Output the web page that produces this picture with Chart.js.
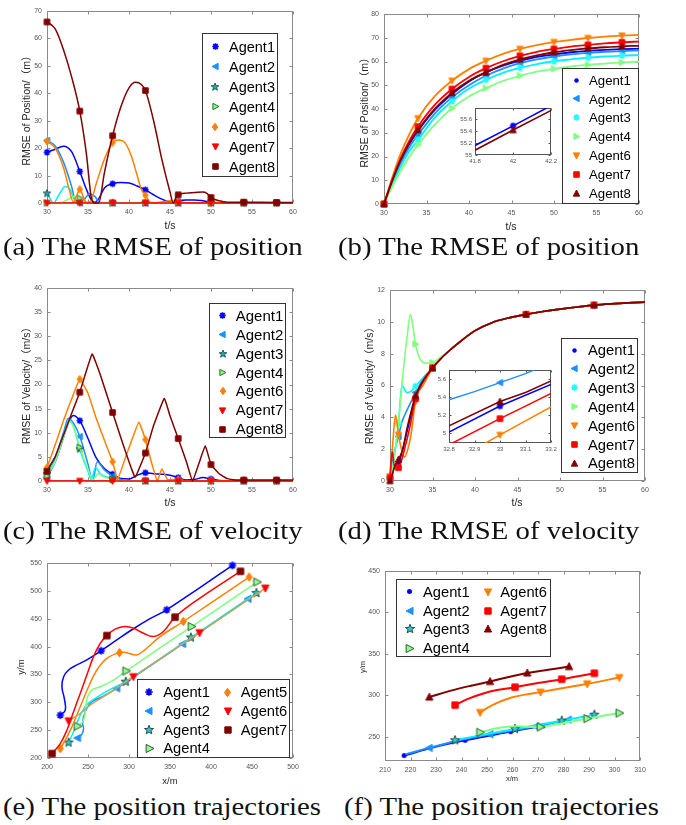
<!DOCTYPE html>
<html>
<head>
<meta charset="utf-8">
<title>RMSE and trajectories</title>
<script src="https://cdn.jsdelivr.net/npm/chart.js@4.4.1/dist/chart.umd.min.js"></script>
<style>
  body { margin: 0; background: #fff; }
  #page { position: relative; width: 686px; height: 825px; overflow: hidden; background: #fff; }
  #page canvas { position: absolute; }
  .cap { position: absolute; font-family: 'Liberation Serif', 'DejaVu Serif', serif; font-size: 25px; line-height: 25px; color: #111; white-space: nowrap; transform: scaleX(1.15); transform-origin: 0 0; }
</style>
</head>
<body>
<div id="page">
  <canvas id="ca" width="343" height="240" style="left:0;top:0"></canvas>
  <canvas id="cb" width="343" height="240" style="left:343px;top:0"></canvas>
  <canvas id="cc" width="343" height="245" style="left:0;top:270px"></canvas>
  <canvas id="cd" width="343" height="245" style="left:343px;top:270px"></canvas>
  <canvas id="ce" width="343" height="260" style="left:0;top:530px"></canvas>
  <canvas id="cf" width="343" height="260" style="left:343px;top:530px"></canvas>
  <canvas id="ib" width="115" height="70" style="left:445px;top:100px"></canvas>
  <canvas id="id" width="140" height="95" style="left:420px;top:362px"></canvas>
  <div class="cap" style="left:3px;top:234px">(a) The RMSE of position</div>
  <div class="cap" style="left:338px;top:234px">(b) The RMSE of position</div>
  <div class="cap" style="left:3px;top:518px">(c) The RMSE of velocity</div>
  <div class="cap" style="left:338px;top:518px">(d) The RMSE of velocity</div>
  <div class="cap" style="left:3px;top:794px">(e) The position trajectories</div>
  <div class="cap" style="left:344px;top:794px">(f) The position trajectories</div>
</div>
<script>
const FONT = "'Liberation Sans', Arial, 'Noto Sans CJK SC', sans-serif";
Chart.defaults.font.family = FONT;

//========== data ==========//

// (a) RMSE of position
const aXTicks = [30, 35, 40, 45, 50, 55, 60];
const aYTicks = [0, 10, 20, 30, 40, 50, 60, 70];
const aMarkT = [30, 34, 38, 42, 46, 50, 54, 58];
const aT1 = [30, 31, 32, 33, 34, 34.8, 35.4, 35.8, 36.3, 37, 38, 39, 40, 41, 42, 43, 44, 45, 45.6, 46, 47, 48, 49, 50, 51, 54, 58, 60];
const aV1 = [18.5, 19.6, 20.7, 18.7, 11.5, 5, 1.2, 0.3, 1.5, 5.5, 7, 7.5, 7.3, 6.2, 4.8, 3, 1.4, 0.3, 0.1, 0.6, 1.1, 1.1, 0.8, 0.3, 0.1, 0, 0, 0];
const aT2 = [30, 31, 32, 33, 33.5, 34, 34.6, 35.2, 35.8, 36.4, 37, 38, 42, 46, 50, 54, 58, 60];
const aV2 = [22.8, 20.8, 15, 6, 0.4, 0, 1.5, 3.4, 2.5, 0.3, 0, 0, 0, 0, 0, 0, 0, 0];
const aT3 = [30, 30.4, 30.8, 31.5, 32.2, 32.8, 33.3, 33.6, 34, 38, 42, 46, 50, 54, 58, 60];
const aV3 = [3.5, 1.5, 0, 3.2, 6, 5, 1.5, 0, 0.3, 0.1, 0, 0, 0, 0, 0, 0];
const aT4 = [30, 31.5, 32.5, 33.3, 34, 34.6, 35, 38, 42, 46, 50, 54, 58, 60];
const aV4 = [0, 0, 1.2, 2.4, 1.8, 0.3, 0, 0, 0, 0, 0, 0, 0, 0];
const aT6 = [30, 31, 32, 32.7, 33.2, 33.6, 34, 34.4, 34.8, 35.3, 36, 37, 38, 38.7, 39.5, 40.3, 41, 41.5, 42, 42.5, 43, 44, 45, 46, 47, 50, 54, 58, 60];
const aV6 = [22.5, 20, 13, 5, 0.4, 2.5, 5, 2.5, 0.2, 0.5, 7, 16, 22, 23, 22, 17, 10, 5, 2.8, 0.5, 0, 0.4, 0.8, 0.5, 0.1, 0, 0, 0, 0];
const aT7 = [30, 34, 38, 42, 46, 50, 54, 58, 60];
const aV7 = [0, 0, 0, 0, 0, 0, 0, 0, 0];
const aT8 = [30, 31, 32, 33, 34, 34.8, 35.4, 35.8, 36.3, 37, 38, 39, 40, 40.8, 41.5, 42, 43, 44, 45, 45.4, 45.8, 46, 47, 48, 49, 49.5, 50, 51, 52, 54, 58, 60];
const aV8 = [66, 63.5, 56, 46, 33.5, 18, 2, 0, 0, 11, 24.5, 35, 42, 44, 43.2, 41, 30, 16, 4, 0, 2.5, 3, 3.6, 3.8, 4, 3.5, 2, 0.8, 0.3, 0.3, 0.2, 0.2];

// (b) RMSE of position
const bYTicks = [0, 10, 20, 30, 40, 50, 60, 70, 80];
const bT = [30, 31, 32, 33, 34, 36, 38, 40, 42, 44, 46, 48, 50, 52, 54, 56, 58, 60];
const bV1 = [0, 9.8, 18.5, 25.4, 30.8, 39.7, 46.3, 51.6, 55.5, 58.3, 60.3, 61.9, 63.0, 63.9, 64.5, 64.9, 65.2, 65.4];
const bV2 = [0, 9.3, 17.5, 24, 29.1, 38.2, 44.9, 50, 54, 57, 59.3, 60.9, 62.1, 63, 63.6, 64.1, 64.4, 64.6];
const bV3 = [0, 8.5, 16, 22.3, 27, 36.5, 43.2, 48.6, 52.3, 55.2, 57.3, 58.9, 60.1, 60.9, 61.6, 62.1, 62.5, 62.7];
const bV4 = [0, 7.5, 14.2, 20, 24.9, 33.5, 40.3, 45.3, 48.8, 51.8, 54, 55.7, 56.9, 57.9, 58.6, 59.1, 59.6, 59.9];
const bV6 = [0, 11.5, 21.5, 29.5, 36.1, 45.5, 51.9, 56.8, 60.3, 63.2, 65.3, 66.9, 68.2, 69.1, 69.9, 70.5, 70.9, 71.2];
const bV7 = [0, 10.5, 19.5, 26.8, 32.6, 41.8, 48.4, 53.5, 57.2, 60.1, 62.4, 64.1, 65.3, 66.3, 67.0, 67.6, 68.1, 68.4];
const bV8 = [0, 10, 18.8, 25.8, 31.2, 40.2, 46.8, 51.9, 55.4, 58.6, 60.9, 62.6, 63.9, 64.8, 65.5, 66, 66.4, 66.6];
// (b) zoomed inset
const bInXTicks = [41.8, 42, 42.2];
const bInYTicks = [55, 55.2, 55.4, 55.6];
const bInT = [41.8, 42, 42.2];
const bInV1 = [55.16, 55.49, 55.83];
const bInV8 = [55.08, 55.42, 55.75];

// (c) RMSE of velocity
const cYTicks = [0, 5, 10, 15, 20, 25, 30, 35, 40];
const cT1 = [30, 31, 32, 32.6, 33.2, 34, 35, 36, 37, 38, 39, 40, 41, 42, 43, 44, 45, 46, 47, 48, 49, 50, 51, 52, 54, 58, 60];
const cV1 = [0.8, 4, 9, 12, 13.6, 12.5, 8.8, 4.8, 2.6, 1.4, 0.5, 0.4, 1.2, 1.7, 1.5, 1.4, 1.2, 0.7, 0.2, 0.3, 0.7, 0.4, 0.1, 0, 0, 0, 0];
const cT2 = [30, 31, 32, 32.6, 33.3, 34, 35, 35.6, 36.1, 37, 38, 39, 40, 42, 46, 50, 54, 58, 60];
const cV2 = [2.5, 5, 10, 13, 11.8, 9.2, 3.5, 0, 4, 2.3, 1, 0.3, 0, 0, 0, 0, 0, 0, 0];
const cT3 = [30, 31, 32, 32.7, 33.3, 34, 35, 35.4, 35.9, 36.5, 37, 38, 39, 42, 46, 50, 54, 58, 60];
const cV3 = [1.4, 4.5, 9.5, 12.6, 11, 6.6, 2, 0.2, 2.8, 1.5, 1, 0.5, 0, 0, 0, 0, 0, 0, 0];
const cT4 = [30, 31, 32, 32.8, 33.4, 34, 35, 35.6, 36.2, 37, 38, 39, 42, 46, 50, 54, 58, 60];
const cV4 = [1, 4, 9, 12.3, 10.5, 7, 2.5, 0.2, 1.5, 0.8, 0.3, 0, 0, 0, 0, 0, 0, 0];
const cT6 = [30, 31, 32, 33, 34, 35, 36, 37.3, 38, 38.6, 39.5, 40.3, 41.2, 42, 42.8, 43.45, 44, 44.7, 46, 47, 50, 54, 58, 60];
const cV6 = [2.8, 7.5, 12.5, 17, 21.1, 18.2, 13, 7.1, 4, 0.3, 4.5, 8.3, 12.2, 8.6, 3.5, 0, 2.5, 0.3, 0.3, 0, 0, 0.1, 0.1, 0];
const cT7 = [30, 34, 38, 42, 46, 50, 54, 58, 60];
const cV7 = [0, 0, 0, 0, 0, 0, 0, 0, 0];
const cT8 = [30, 31, 32, 33, 34, 35.5, 36.5, 38, 39, 40, 40.75, 42, 43, 44.3, 45, 46, 47, 47.75, 48.5, 49.3, 50, 51, 52, 53, 54, 58, 60];
const cV8 = [2, 5, 9.5, 14, 18.4, 26.3, 22, 14.2, 9, 4, 0.8, 5.8, 11.5, 17.1, 13.5, 8.8, 4, 0, 3.5, 7.3, 3.4, 1.5, 0.5, 0.2, 0.2, 0.2, 0.2];

// (d) RMSE of velocity: individual start, shared tail
const dYTicks = [0, 2, 4, 6, 8, 10, 12];
const dMarkT = [30, 31, 33, 35, 46, 54];
const dT1 = [30, 30.3, 30.6, 31, 31.5, 32, 32.5, 33, 34];
const dV1 = [0.1, 0.5, 1.0, 1.15, 2.0, 3.1, 4.2, 5.3, 6.4];
const dT2 = [30, 30.5, 31, 31.4, 32, 32.5, 33, 34];
const dV2 = [0.2, 1.8, 2.8, 3.7, 4.45, 5.0, 5.56, 6.5];
const dT3 = [30, 30.5, 31, 31.4, 32, 32.5, 33, 34];
const dV3 = [0.2, 1.5, 3.6, 6.0, 5.55, 5.65, 5.95, 6.55];
const dT4 = [30, 30.3, 31, 31.5, 32, 32.4, 32.7, 33, 33.5, 34.2, 35, 35.5, 36, 36.5];
const dV4 = [0.1, 0.8, 3.7, 6.6, 9.0, 10.45, 9.7, 8.6, 7.7, 7.4, 7.43, 7.6, 7.8, 8.0];
const dT6 = [30, 30.3, 30.65, 31, 31.3, 31.7, 32.1, 32.5, 33, 34];
const dV6 = [0.3, 2.2, 4.15, 2.9, 2.1, 1.5, 2.0, 3.0, 5.0, 6.1];
const dT7 = [30, 30.1, 30.25, 30.5, 31, 31.3, 31.8, 32.3, 33, 34];
const dV7 = [0.2, 1.0, 1.83, 1.0, 0.84, 1.2, 2.2, 3.3, 5.17, 6.3];
const dT8 = [30, 30.2, 30.6, 31, 31.5, 32, 32.5, 33, 34];
const dV8 = [0.0, 0.3, 1.0, 1.35, 2.0, 3.3, 4.4, 5.35, 6.4];
const dTailT = [35, 36, 37, 38, 40, 42, 44, 46, 48, 50, 52, 54, 56, 58, 60];
const dTailV = [7.1, 7.7, 8.2, 8.65, 9.45, 9.95, 10.25, 10.47, 10.65, 10.8, 10.93, 11.05, 11.13, 11.19, 11.24];
// (d) zoomed inset
const dInXTicks = [32.8, 32.9, 33, 33.1, 33.2];
const dInYTicks = [5, 5.2, 5.4, 5.6];
const dInT1 = [32.8, 33, 33.2];
const dInV1 = [5.01, 5.3, 5.54];
const dInT2 = [32.8, 32.9, 33, 33.1, 33.15];
const dInV2 = [5.37, 5.46, 5.56, 5.66, 5.72];
const dInT6 = [32.9, 33, 33.2];
const dInV6 = [4.82, 4.98, 5.29];
const dInT7 = [32.8, 33, 33.1, 33.2];
const dInV7 = [4.87, 5.16, 5.3, 5.44];
const dInT8 = [32.8, 33, 33.1, 33.2];
const dInV8 = [5.08, 5.35, 5.45, 5.58];

// (e) position trajectories
const eXTicks = [200, 250, 300, 350, 400, 450, 500];
const eYTicks = [200, 250, 300, 350, 400, 450, 500, 550];
const eX1 = [216.2, 222.3, 221.1, 218.2, 220.3, 226.3, 236.5, 248.6, 266.1, 285.1, 305.4, 325.7, 345.9, 386.5, 426.2];
const eY1 = [276.9, 285.9, 306.9, 327.9, 345.9, 357.9, 367, 376, 392.7, 412, 432, 450, 466, 506, 545.8];
const eX2 = [237.3, 242.6, 244.6, 243.4, 246.6, 254.7, 268.9, 285.1, 365.4, 445.2];
const eY2 = [236, 242.7, 252.9, 263.1, 282.9, 300.9, 311.1, 325, 404.7, 485.8];
const eX3 = [226.3, 233.2, 240.5, 247.8, 258.8, 277, 296.1, 375.5, 455.4];
const eY3 = [227.7, 249.9, 276.9, 294.9, 306.9, 323.1, 336.9, 416.1, 496];
const eX4 = [237.3, 244.6, 247.8, 249.5, 254.7, 264.9, 281.1, 296.5, 376.3, 456.2];
const eY4 = [257.1, 267.9, 297.9, 309.9, 321.9, 327.9, 339.9, 356.1, 436, 515.8];
const eX5 = [216.2, 222.3, 230.4, 240.5, 250.7, 260.8, 273, 288.4, 297.3, 309.4, 321.6, 337.8, 366.2, 446.5];
const eY5 = [216.9, 231.9, 255.9, 291.9, 327.9, 357.9, 378.9, 389.1, 389.1, 385, 397, 418, 445, 524.8];
const eX6 = [226.3, 240.5, 252.7, 268.9, 285, 305.4, 386, 466.3];
const eY6 = [266.7, 279.9, 294.9, 310, 325.5, 346, 425, 505];
const eX7 = [206.1, 216.2, 224.3, 232.4, 240.5, 248.6, 256.7, 264.9, 273, 283.1, 295.3, 305.4, 317.6, 329.7, 341.9, 356.1, 386.5, 435.9];
const eY7 = [207.9, 225.9, 249.9, 282.9, 315.9, 348.9, 381.9, 405.9, 419.7, 431.2, 436, 433, 424, 418, 427, 452.8, 487, 535];

// (f) position trajectories
const fXTicks = [210, 220, 230, 240, 250, 260, 270, 280, 290, 300, 310];
const fYTicks = [250, 300, 350, 400, 450];
const fX1 = [217.5, 229, 241.4, 259.3, 272.1];
const fY1 = [227.6, 237.5, 246, 256.4, 263.6];
const fX2 = [218, 227.4, 240, 251.2, 260, 269.2, 281.9];
const fY2 = [229, 236.8, 246.5, 253.2, 257.8, 262.8, 270.8];
const fX3 = [237.5, 250, 261, 270, 279.3, 292.1];
const fY3 = [246, 253.5, 259.6, 264.5, 269.6, 276.8];
const fX4 = [247.3, 255, 261.6, 266, 271, 280, 289.3, 301.9];
const fY4 = [255.6, 261, 262.8, 262.3, 262, 266.8, 272, 278.8];
const fX6 = [247.3, 252.5, 259, 265, 271, 280, 289.3, 301.9];
const fY6 = [279.6, 289, 297, 301, 304, 309, 314, 321.6];
const fX7 = [237.5, 243.3, 251.2, 261, 270, 279.3, 292.1];
const fY7 = [288.4, 296.8, 304.8, 310, 315, 319.6, 326.8];
const fX8 = [227.4, 235.5, 243.3, 251.2, 258.5, 265.8, 274, 282.2];
const fY8 = [298, 305.5, 311.5, 316.8, 322.3, 327, 331, 334.8];

//========== look ==========//

const C = {
  blue: '#0000ff', lblue: '#1e8fff', cyan: '#00f0ff', green: '#80ff80',
  orange: '#ff8000', red: '#ff0000', dred: '#800000', tan: '#d2a050'
};

// small canvas sprites used as point styles (MATLAB-like markers)
function sprite(shape, fill, edge, size, lw) {
  const n = Math.ceil(size) + 4;
  const c = document.createElement('canvas');
  c.width = c.height = n;
  const g = c.getContext('2d');
  const m = n / 2, r = size / 2;
  g.fillStyle = fill; g.strokeStyle = edge; g.lineWidth = lw || 1;
  const poly = pts => {
    g.beginPath();
    pts.forEach(([px, py], i) => i ? g.lineTo(m + px * r, m + py * r) : g.moveTo(m + px * r, m + py * r));
    g.closePath(); g.fill(); g.stroke();
  };
  if (shape === 'dot') { g.beginPath(); g.arc(m, m, r, 0, 2 * Math.PI); g.fill(); }
  else if (shape === 'ast') {
    g.lineWidth = lw || 1.7; g.beginPath();
    for (let k = 0; k < 4; k++) {
      const a = k * Math.PI / 4;
      g.moveTo(m - r * Math.cos(a), m - r * Math.sin(a));
      g.lineTo(m + r * Math.cos(a), m + r * Math.sin(a));
    }
    g.stroke();
  }
  else if (shape === 'sq') poly([[-0.85, -0.85], [0.85, -0.85], [0.85, 0.85], [-0.85, 0.85]]);
  else if (shape === 'dia') poly([[0, -1], [0.72, 0], [0, 1], [-0.72, 0]]);
  else if (shape === 'tu') poly([[0, -1], [0.9, 0.75], [-0.9, 0.75]]);
  else if (shape === 'td') poly([[0, 1], [0.9, -0.75], [-0.9, -0.75]]);
  else if (shape === 'tl') poly([[-1, 0], [0.75, -0.9], [0.75, 0.9]]);
  else if (shape === 'tr') poly([[1, 0], [-0.75, -0.9], [-0.75, 0.9]]);
  else if (shape === 'pent') {
    const pts = [];
    for (let k = 0; k < 10; k++) {
      const a = -Math.PI / 2 + k * Math.PI / 5, rr = k % 2 ? 0.42 : 1;
      pts.push([rr * Math.cos(a), rr * Math.sin(a)]);
    }
    poly(pts);
  }
  return c;
}

const MK = {
  ast: sprite('ast', C.blue, C.blue, 6.5),
  dot: sprite('dot', C.blue, C.blue, 4.5),
  tl: sprite('tl', C.lblue, C.lblue, 7),
  pent: sprite('pent', '#2aa5a5', '#1d5c5c', 8),
  astC: sprite('ast', '#20ffff', '#20ffff', 6.5),
  trOpen: sprite('tr', C.green, '#2f6f2f', 7),
  tr: sprite('tr', C.green, C.green, 7),
  dia: sprite('dia', C.orange, C.orange, 7.5),
  tdR: sprite('td', C.red, C.red, 7),
  tdO: sprite('td', C.orange, C.orange, 7),
  sqD: sprite('sq', C.dred, C.dred, 6.5),
  sqR: sprite('sq', C.red, C.red, 6.5),
  tuD: sprite('tu', C.dred, C.dred, 7),
  // trajectory panels use slightly larger markers
  astE: sprite('ast', C.blue, C.blue, 7.5),
  tlE: sprite('tl', C.lblue, C.lblue, 8),
  pentE: sprite('pent', '#30c8c8', '#1d4f4f', 9.5),
  trE: sprite('tr', '#90ff90', '#2a5a2a', 9),
  diaE: sprite('dia', C.orange, C.orange, 8.5),
  tdE: sprite('td', C.red, C.red, 8),
  sqE: sprite('sq', C.dred, C.dred, 7.5),
  tdOE: sprite('td', C.orange, C.orange, 8),
  sqRE: sprite('sq', C.red, C.red, 7.5),
  tuE: sprite('tu', C.dred, C.dred, 8),
  dotE: sprite('dot', C.blue, C.blue, 5),
};

// box, inward ticks, axis titles and boxed legend, drawn like a MATLAB axes
const frame = {
  id: 'frame',
  beforeDatasetsDraw(chart, args, o) {
    const { ctx, chartArea: a, scales: { x, y } } = chart;
    ctx.save();
    if (o.bg) { ctx.fillStyle = o.bg; ctx.fillRect(a.left, a.top, a.right - a.left, a.bottom - a.top); }
    ctx.strokeStyle = o.color; ctx.lineWidth = 1;
    const L = Math.round(a.left) + 0.5, R = Math.round(a.right) - 0.5;
    const T = Math.round(a.top) + 0.5, B = Math.round(a.bottom) - 0.5;
    ctx.strokeRect(L, T, R - L, B - T);
    ctx.beginPath();
    for (const t of x.ticks) {
      const p = Math.round(x.getPixelForValue(t.value)) + 0.5;
      ctx.moveTo(p, B); ctx.lineTo(p, B - o.tick);
      ctx.moveTo(p, T); ctx.lineTo(p, T + o.tick);
    }
    for (const t of y.ticks) {
      const p = Math.round(y.getPixelForValue(t.value)) + 0.5;
      ctx.moveTo(L, p); ctx.lineTo(L + o.tick, p);
      ctx.moveTo(R, p); ctx.lineTo(R - o.tick, p);
    }
    ctx.stroke();
    ctx.restore();
  },
  afterDraw(chart, args, o) {
    const ctx = chart.ctx;
    ctx.save();
    for (const t of o.titles) {
      ctx.save();
      ctx.translate(t.x, t.y);
      if (t.rot) ctx.rotate(-Math.PI / 2);
      ctx.font = t.size + 'px ' + FONT;
      ctx.fillStyle = '#262626';
      ctx.textAlign = 'center'; ctx.textBaseline = 'middle';
      ctx.fillText(t.text, 0, 0);
      ctx.restore();
    }
    const g = o.legend;
    if (g) {
      const l = g.box[0], t = g.box[1], r = g.box[2], b = g.box[3];
      ctx.fillStyle = '#fff'; ctx.fillRect(l, t, r - l, b - t);
      ctx.strokeStyle = '#333'; ctx.lineWidth = 1;
      ctx.strokeRect(l + 0.5, t + 0.5, r - l - 1, b - t - 1);
      ctx.font = g.size + 'px ' + FONT;
      ctx.fillStyle = '#000'; ctx.textAlign = 'left'; ctx.textBaseline = 'middle';
      chart.data.datasets.forEach((d, i) => {
        const col = Math.floor(i / g.rows), y = g.y0 + (i % g.rows) * g.dy;
        const m = d.pointStyle;
        ctx.drawImage(m, Math.round(g.mx[col] - m.width / 2), Math.round(y - m.height / 2));
        ctx.fillText(d.label, g.tx[col], y + 1);
      });
    }
    ctx.restore();
  }
};

function axis(ax, size, dir, room) {
  return {
    type: 'linear', min: ax.min, max: ax.max,
    grid: { display: false, drawTicks: false, tickLength: 0 },
    border: { display: false },
    afterBuildTicks: s => { s.ticks = ax.ticks.map(v => ({ value: v })); },
    afterFit: s => { if (dir === 'x') s.height = room; else s.width = room; },
    ticks: {
      font: { size: size, family: FONT }, color: '#555', padding: ax.pad ?? 5,
      maxRotation: 0, autoSkip: false, callback: v => String(v)
    }
  };
}

function panel(id, o) {
  const cv = document.getElementById(id);
  const A = o.area;
  const datasets = o.series.map((s, i) => ({
    label: s.name,
    data: s.x.map((x, k) => ({ x: x, y: s.y[k] })),
    showLine: true,
    borderColor: s.line,
    backgroundColor: s.line,
    borderWidth: o.lw || 1.5,
    pointStyle: s.mk,
    pointRadius: c => {
      if (!c.raw) return 0;
      const hit = s.at ? s.at.includes(c.dataIndex) : o.markT.includes(c.raw.x);
      return hit ? 4 : 0;
    },
    tension: s.tension ?? (o.tension ?? 0.4),
    cubicInterpolationMode: (s.mono ?? o.mono) ? 'monotone' : 'default',
    clip: o.clip ? 0 : false,
    order: o.series.length - i
  }));
  return new Chart(cv, {
    type: 'scatter',
    data: { datasets },
    options: {
      responsive: false, animation: false, events: [],
      layout: { padding: { left: 0, top: A.t, right: cv.width - A.r, bottom: 0 } },
      plugins: {
        legend: { display: false }, tooltip: { enabled: false },
        frame: { color: o.frameColor || '#8a8a8a', tick: o.tickLen || 3, bg: o.bg, titles: o.titles || [], legend: o.legend }
      },
      scales: {
        x: axis(o.x, o.tickSize || 7, 'x', cv.height - A.b),
        y: axis(o.y, o.tickSize || 7, 'y', A.l)
      }
    },
    plugins: [frame]
  });
}

//========== charts ==========//

const posTitle = 'RMSE of Position/（m）';
const velTitle = 'RMSE of Velocity/（m/s）';

// (a)
panel('ca', {
  area: { l: 47, t: 11, r: 293, b: 203 },
  x: { min: 30, max: 60, ticks: aXTicks }, y: { min: 0, max: 70, ticks: aYTicks },
  markT: aMarkT, mono: true,
  series: [
    { name: 'Agent1', x: aT1, y: aV1, line: C.blue, mk: MK.ast },
    { name: 'Agent2', x: aT2, y: aV2, line: C.lblue, mk: MK.tl },
    { name: 'Agent3', x: aT3, y: aV3, line: C.cyan, mk: MK.pent },
    { name: 'Agent4', x: aT4, y: aV4, line: C.green, mk: MK.trOpen },
    { name: 'Agent6', x: aT6, y: aV6, line: C.orange, mk: MK.dia },
    { name: 'Agent7', x: aT7, y: aV7, line: C.red, mk: MK.tdR },
    { name: 'Agent8', x: aT8, y: aV8, line: C.dred, mk: MK.sqD }
  ],
  titles: [
    { text: posTitle, x: 27.5, y: 108, rot: true, size: 10.5 },
    { text: 't/s', x: 170, y: 226, size: 10.5 }
  ],
  legend: { box: [202, 33, 278, 177], size: 14.5, rows: 7, y0: 46.7, dy: 20, mx: [215], tx: [229] }
});

// (b)
panel('cb', {
  area: { l: 41, t: 14, r: 296, b: 204 },
  x: { min: 30, max: 60, ticks: aXTicks }, y: { min: 0, max: 80, ticks: bYTicks },
  markT: aMarkT, mono: true, lw: 1.8,
  series: [
    { name: 'Agent1', x: bT, y: bV1, line: C.blue, mk: MK.dot },
    { name: 'Agent2', x: bT, y: bV2, line: C.lblue, mk: MK.tl },
    { name: 'Agent3', x: bT, y: bV3, line: C.cyan, mk: MK.astC },
    { name: 'Agent4', x: bT, y: bV4, line: C.green, mk: MK.tr },
    { name: 'Agent6', x: bT, y: bV6, line: C.orange, mk: MK.tdO },
    { name: 'Agent7', x: bT, y: bV7, line: C.red, mk: MK.sqR },
    { name: 'Agent8', x: bT, y: bV8, line: C.dred, mk: MK.tuD }
  ],
  titles: [
    { text: posTitle, x: 22, y: 110, rot: true, size: 10.5 },
    { text: 't/s', x: 168, y: 227, size: 10.5 }
  ],
  legend: { box: [219, 68, 296, 204], size: 13.2, rows: 7, y0: 80, dy: 18.9, mx: [233], tx: [246] }
});

// (b) inset
panel('ib', {
  area: { l: 30, t: 8, r: 109, b: 55 },
  x: { min: 41.8, max: 42.2, ticks: bInXTicks, pad: 3 }, y: { min: 55, max: 55.79, ticks: bInYTicks, pad: 3 },
  markT: [42], tension: 0, clip: true, bg: '#fff', tickSize: 6, tickLen: 2, frameColor: '#555', lw: 1.6,
  series: [
    { name: 'Agent1', x: bInT, y: bInV1, line: C.blue, mk: MK.ast },
    { name: 'Agent8', x: bInT, y: bInV8, line: C.dred, mk: MK.tuD }
  ]
});

// (c)
panel('cc', {
  area: { l: 47, t: 18, r: 293, b: 211 },
  x: { min: 30, max: 60, ticks: aXTicks }, y: { min: 0, max: 40, ticks: cYTicks },
  markT: aMarkT, mono: true,
  series: [
    { name: 'Agent1', x: cT1, y: cV1, line: C.blue, mk: MK.ast },
    { name: 'Agent2', x: cT2, y: cV2, line: C.lblue, mk: MK.tl },
    { name: 'Agent3', x: cT3, y: cV3, line: C.cyan, mk: MK.pent },
    { name: 'Agent4', x: cT4, y: cV4, line: C.green, mk: MK.trOpen },
    { name: 'Agent6', x: cT6, y: cV6, line: C.orange, mk: MK.dia, mono: false, tension: 0.1 },
    { name: 'Agent7', x: cT7, y: cV7, line: C.red, mk: MK.tdR },
    { name: 'Agent8', x: cT8, y: cV8, line: C.dred, mk: MK.sqD, mono: false, tension: 0.1 }
  ],
  titles: [
    { text: velTitle, x: 27.5, y: 113, rot: true, size: 10.5 },
    { text: 't/s', x: 170, y: 233, size: 10.5 }
  ],
  legend: { box: [209, 33, 286, 168], size: 15, rows: 7, y0: 45.7, dy: 18.9, mx: [222.7], tx: [235.7] }
});

// (d)
panel('cd', {
  area: { l: 47, t: 20, r: 302, b: 211 },
  x: { min: 30, max: 60, ticks: aXTicks }, y: { min: 0, max: 12, ticks: dYTicks },
  markT: dMarkT, mono: true, lw: 1.6,
  series: [
    { name: 'Agent1', x: dT1.concat(dTailT), y: dV1.concat(dTailV), line: C.blue, mk: MK.dot },
    { name: 'Agent2', x: dT2.concat(dTailT), y: dV2.concat(dTailV), line: C.lblue, mk: MK.tl },
    { name: 'Agent3', x: dT3.concat(dTailT), y: dV3.concat(dTailV), line: C.cyan, mk: MK.astC },
    { name: 'Agent4', x: dT4.concat(dTailT.slice(2)), y: dV4.concat(dTailV.slice(2)), line: C.green, mk: MK.tr },
    { name: 'Agent6', x: dT6.concat(dTailT), y: dV6.concat(dTailV), line: C.orange, mk: MK.tdO },
    { name: 'Agent7', x: dT7.concat(dTailT), y: dV7.concat(dTailV), line: C.red, mk: MK.sqR },
    { name: 'Agent8', x: dT8.concat(dTailT), y: dV8.concat(dTailV), line: C.dred, mk: MK.tuD }
  ],
  titles: [
    { text: velTitle, x: 27.5, y: 113, rot: true, size: 10.5 },
    { text: 't/s', x: 174, y: 233, size: 10.5 }
  ],
  legend: { box: [218, 68, 295, 203], size: 14.8, rows: 7, y0: 80, dy: 18.9, mx: [231.7], tx: [245] }
});

// (d) inset
panel('id', {
  area: { l: 29, t: 8, r: 131, b: 81 },
  x: { min: 32.8, max: 33.2, ticks: dInXTicks, pad: 3 }, y: { min: 4.89, max: 5.7, ticks: dInYTicks, pad: 3 },
  markT: [33], tension: 0, clip: true, bg: '#fff', tickSize: 6, tickLen: 2, frameColor: '#555', lw: 1.5,
  series: [
    { name: 'Agent1', x: dInT1, y: dInV1, line: C.blue, mk: MK.ast },
    { name: 'Agent2', x: dInT2, y: dInV2, line: C.lblue, mk: MK.tl },
    { name: 'Agent6', x: dInT6, y: dInV6, line: C.orange, mk: MK.tdO },
    { name: 'Agent7', x: dInT7, y: dInV7, line: C.red, mk: MK.sqR },
    { name: 'Agent8', x: dInT8, y: dInV8, line: C.dred, mk: MK.tuD }
  ]
});

// (e)
panel('ce', {
  area: { l: 47, t: 33, r: 293, b: 228 },
  x: { min: 200, max: 500, ticks: eXTicks }, y: { min: 200, max: 550, ticks: eYTicks },
  tension: 0.4,
  series: [
    { name: 'Agent1', x: eX1, y: eY1, line: C.blue, mk: MK.astE, at: [0, 8, 12, 14] },
    { name: 'Agent2', x: eX2, y: eY2, line: C.lblue, mk: MK.tlE, at: [0, 7, 8, 9] },
    { name: 'Agent3', x: eX3, y: eY3, line: C.cyan, mk: MK.pentE, at: [0, 6, 7, 8] },
    { name: 'Agent4', x: eX4, y: eY4, line: C.green, mk: MK.trE, at: [0, 7, 8, 9] },
    { name: 'Agent5', x: eX5, y: eY5, line: C.orange, mk: MK.diaE, at: [0, 7, 12, 13] },
    { name: 'Agent6', x: eX6, y: eY6, line: C.tan, mk: MK.tdE, at: [0, 5, 6, 7] },
    { name: 'Agent7', x: eX7, y: eY7, line: C.red, mk: MK.sqE, at: [0, 8, 15, 17] }
  ],
  titles: [
    { text: 'y/m', x: 21.7, y: 137, rot: true, size: 9.5 },
    { text: 'x/m', x: 170, y: 251, size: 9.5 }
  ],
  legend: { box: [137, 149, 290, 228], size: 14.7, rows: 4, y0: 162.3, dy: 18.7, mx: [149.3, 227.5], tx: [163.3, 240.7] }
});

// (f)
panel('cf', {
  area: { l: 42, t: 41, r: 297, b: 231 },
  x: { min: 210, max: 310, ticks: fXTicks }, y: { min: 221, max: 450, ticks: fYTicks },
  tension: 0.4, lw: 2,
  series: [
    { name: 'Agent1', x: fX1, y: fY1, line: C.blue, mk: MK.dotE, at: [0, 2, 3, 4] },
    { name: 'Agent2', x: fX2, y: fY2, line: C.lblue, mk: MK.tlE, at: [1, 3, 5, 6] },
    { name: 'Agent3', x: fX3, y: fY3, line: C.cyan, mk: MK.pentE, at: [0, 2, 4, 5] },
    { name: 'Agent4', x: fX4, y: fY4, line: C.green, mk: MK.trE, at: [0, 4, 6, 7] },
    { name: 'Agent6', x: fX6, y: fY6, line: C.orange, mk: MK.tdOE, at: [0, 4, 6, 7] },
    { name: 'Agent7', x: fX7, y: fY7, line: C.red, mk: MK.sqRE, at: [0, 3, 5, 6] },
    { name: 'Agent8', x: fX8, y: fY8, line: C.dred, mk: MK.tuE, at: [0, 3, 5, 7] }
  ],
  titles: [
    { text: 'y/m', x: 20, y: 137, rot: true, size: 7.5 },
    { text: 'x/m', x: 169, y: 249, size: 7.5 }
  ],
  legend: { box: [53, 49, 208, 127], size: 14.7, rows: 4, y0: 61.7, dy: 18.8, mx: [66.7, 145], tx: [80, 157.3] }
});
</script>
</body>
</html>
